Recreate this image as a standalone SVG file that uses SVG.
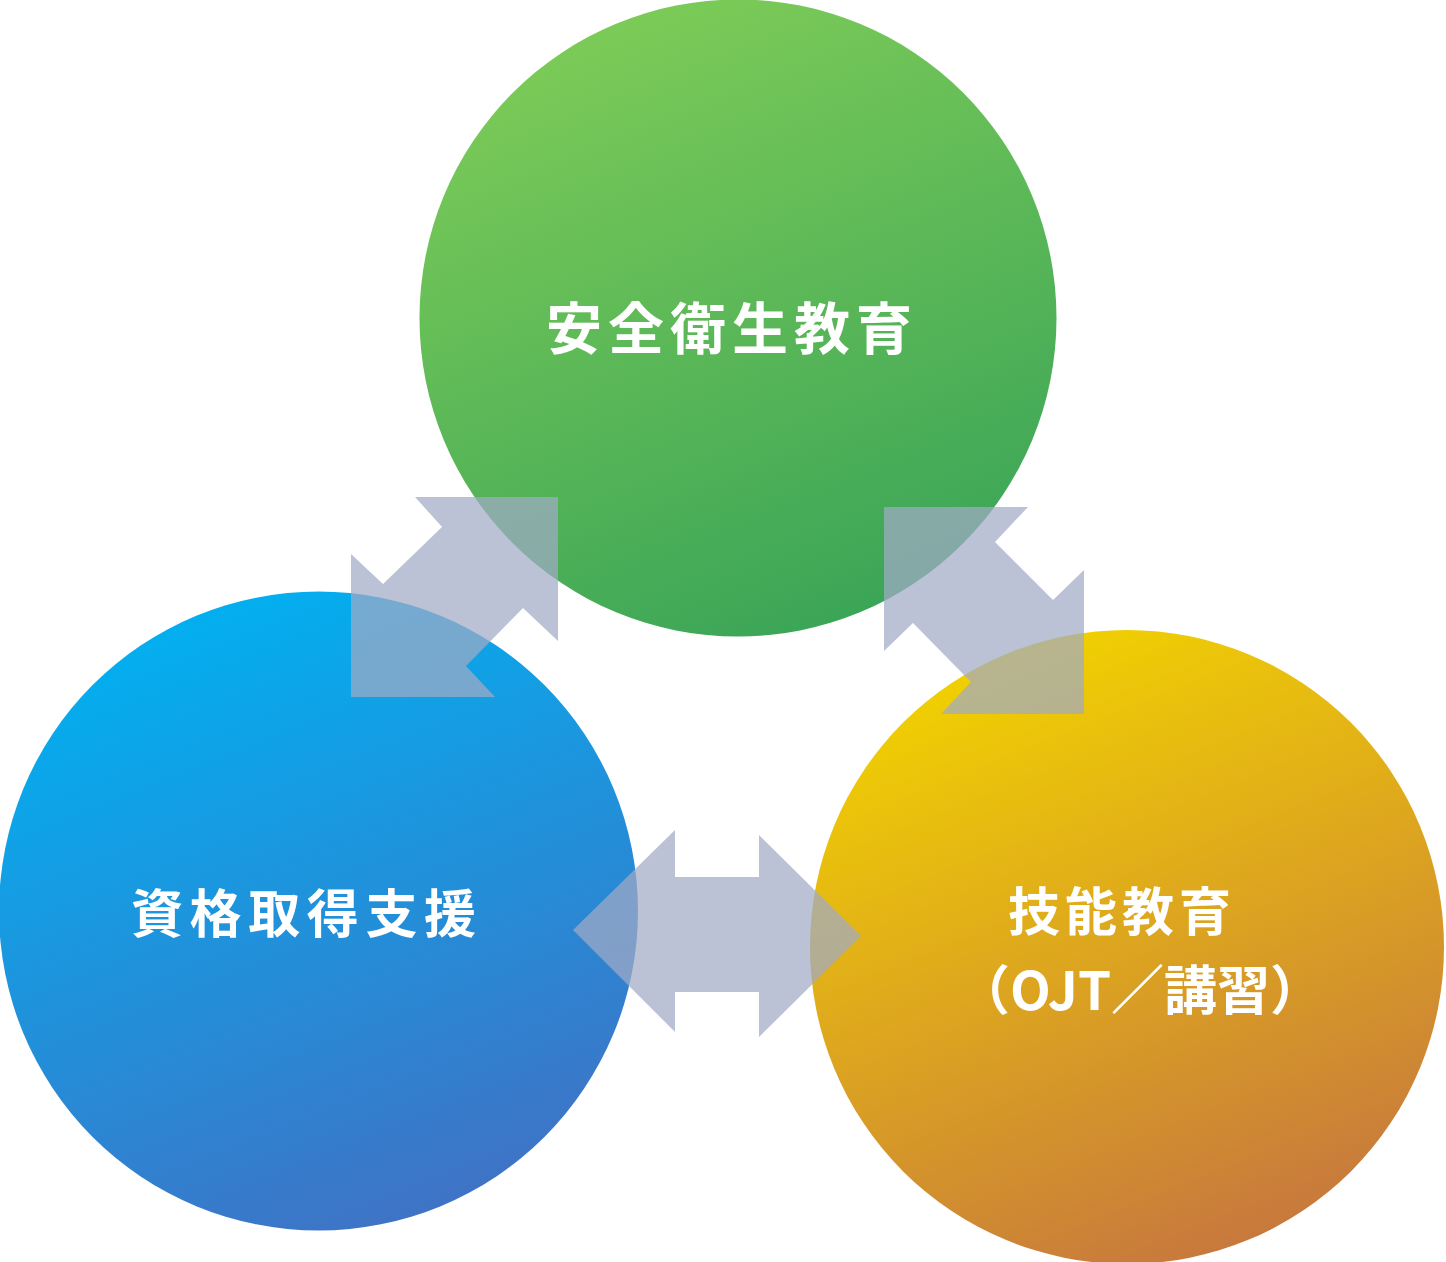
<svg xmlns="http://www.w3.org/2000/svg" width="1446" height="1262" viewBox="0 0 1446 1262">
<defs>
<linearGradient id="gGreen" x1="0.3" y1="0" x2="0.7" y2="1">
<stop offset="0" stop-color="#7ecc57"/>
<stop offset="1" stop-color="#39a457"/>
</linearGradient>
<linearGradient id="gBlue" x1="0.3" y1="0" x2="0.7" y2="1">
<stop offset="0" stop-color="#00b1f1"/>
<stop offset="1" stop-color="#4171c4"/>
</linearGradient>
<linearGradient id="gYellow" x1="0.3" y1="0" x2="0.7" y2="1">
<stop offset="0" stop-color="#f2d300"/>
<stop offset="1" stop-color="#c6763f"/>
</linearGradient>
<style>
.lbl{fill:#fff;font-family:"Noto Sans CJK JP","Noto Sans CJK SC",sans-serif;font-weight:700;dominant-baseline:central}
.arrow{fill:#a1abc5;fill-opacity:0.72}
</style>
</defs>
<g id="node-safety">
<circle cx="738" cy="318" r="318.5" fill="url(#gGreen)"/>
<text class="lbl" x="546" y="324" font-size="56" textLength="366" lengthAdjust="spacing">安全衛生教育</text>
</g>
<g id="node-qualification">
<circle cx="318.5" cy="911" r="319.5" fill="url(#gBlue)"/>
<text class="lbl" x="131" y="910" font-size="52" textLength="345" lengthAdjust="spacing">資格取得支援</text>
</g>
<g id="node-skill">
<circle cx="1127" cy="947" r="317" fill="url(#gYellow)"/>
<text class="lbl" x="1008" y="908" font-size="52" textLength="223" lengthAdjust="spacing">技能教育</text>
<text class="lbl" x="1140" y="987" font-size="53" text-anchor="middle">（OJT／講習）</text>
</g>
<g id="connectors">
<polygon class="arrow" points="415,497 558,497 558,641 523,608 466,666 495,697 351,697 351,554 383,584 442,527"/>
<polygon class="arrow" points="884,507 1028,507 995,542 1053,600 1084,570 1084,714 941,714 971,682 913,623 884,651"/>
<polygon class="arrow" points="573,930 675,830 675,877 759,877 759,835 861,936 759,1037 759,992 675,992 675,1032"/>
</g>
</svg>
